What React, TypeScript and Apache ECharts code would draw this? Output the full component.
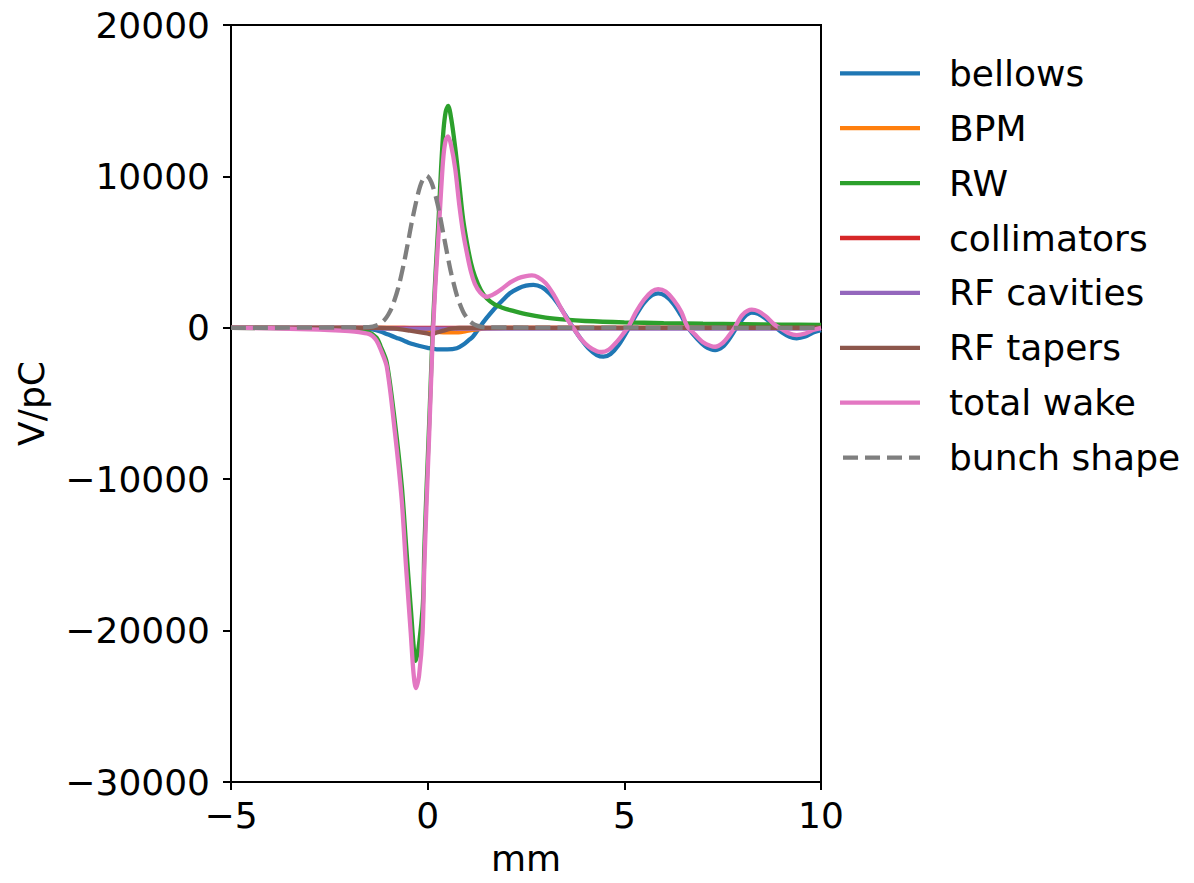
import React, { useEffect, useRef } from "react";
import * as echarts from "echarts";

const seriesNames = ["bellows", "BPM", "RW", "collimators", "RF cavities", "RF tapers", "total wake", "bunch shape"];
const seriesColors = ["#1f77b4", "#ff7f0e", "#2ca02c", "#d62728", "#9467bd", "#8c564b", "#e377c2", "#7f7f7f"];

const xTicks = { min: -5, max: 10, interval: 5 };
const yTicks = { min: -30000, max: 20000, interval: 10000 };

const bellowsX = [-5, -2, -1.6, -1.4, -1.2, -1.0, -0.8, -0.6, -0.45, -0.2, 0, 0.23, 0.5, 0.74, 0.9, 1.05, 1.15, 1.33, 1.5, 1.67, 1.9, 2.09, 2.3, 2.5, 2.69, 2.9, 3.1, 3.28, 3.5, 3.7, 3.9, 4.1, 4.3, 4.47, 4.65, 4.85, 5.12, 5.3, 5.5, 5.7, 5.86, 6.05, 6.25, 6.45, 6.62, 6.85, 7.05, 7.2, 7.31, 7.5, 7.65, 7.85, 8.05, 8.24, 8.4, 8.6, 8.8, 9.0, 9.2, 9.38, 9.6, 9.8, 10];
const bellowsY = [0, 0, -30, -100, -250, -450, -650, -850, -1020, -1200, -1320, -1420, -1430, -1350, -1120, -800, -590, 70, 650, 1180, 1800, 2280, 2600, 2780, 2830, 2680, 2260, 1700, 830, 0, -760, -1390, -1800, -1910, -1730, -1160, 0, 850, 1650, 2150, 2280, 2100, 1580, 780, 0, -730, -1220, -1420, -1470, -1250, -800, 0, 720, 1000, 920, 600, 130, -300, -590, -690, -580, -310, -150];

const bpmX = [-5, -0.6, -0.3, 0, 0.2, 0.4, 0.7, 0.95, 1.2, 1.5, 2, 10];
const bpmY = [0, 0, -40, -150, -250, -300, -300, -230, -120, -40, 0, 0];

const rwX = [-5, -3, -2, -1.5, -1.3, -1.2, -1.04, -0.83, -0.66, -0.55, -0.43, -0.3, -0.13, -0.085, -0.025, 0.04, 0.1, 0.13, 0.2, 0.28, 0.34, 0.4, 0.46, 0.52, 0.6, 0.7, 0.8, 0.9, 1.0, 1.1, 1.2, 1.35, 1.5, 1.7, 1.9, 2.1, 2.5, 3.0, 3.5, 4.0, 5.0, 6.0, 7.0, 8.0, 9.0, 10];
const rwY = [0, -50, -150, -300, -650, -1200, -2300, -6300, -10400, -14300, -18500, -22000, -18600, -14600, -10400, -6200, -2000, 0, 3600, 7300, 10500, 13000, 14300, 14650, 13800, 11900, 9600, 7200, 5600, 4300, 3400, 2500, 1950, 1550, 1330, 1170, 900, 680, 540, 450, 360, 310, 270, 240, 210, 190];

const collimatorsX = [-5, 10];
const collimatorsY = [0, 0];

const rfCavitiesX = [-5, -1.5, -1.2, 10];
const rfCavitiesY = [0, 0, -50, -50];

const rfTapersX = [-5, -1.2, -0.87, -0.45, -0.02, 0.07, 0.2, 0.4, 0.6, 0.8, 10];
const rfTapersY = [0, 0, -40, -190, -370, -430, -340, -190, -60, 0, 0];

const totalX = [-5, -4, -3, -2.5, -2, -1.75, -1.5, -1.4, -1.3, -1.2, -1.04, -0.83, -0.66, -0.55, -0.43, -0.36, -0.3, -0.22, -0.13, -0.085, -0.025, 0.04, 0.1, 0.14, 0.2, 0.28, 0.34, 0.4, 0.46, 0.52, 0.6, 0.7, 0.8, 0.9, 1.0, 1.1, 1.2, 1.33, 1.5, 1.7, 1.9, 2.1, 2.3, 2.5, 2.65, 2.8, 3.0, 3.2, 3.4, 3.55, 3.7, 3.9, 4.1, 4.3, 4.42, 4.6, 4.8, 5.0, 5.1, 5.3, 5.5, 5.7, 5.86, 6.05, 6.25, 6.45, 6.6, 6.8, 7.0, 7.2, 7.31, 7.5, 7.65, 7.8, 8.0, 8.24, 8.4, 8.6, 8.8, 8.95, 9.2, 9.38, 9.6, 9.8, 10];
const totalY = [0, -30, -100, -150, -220, -280, -400, -550, -850, -1400, -2570, -6970, -11370, -15780, -20170, -22800, -23800, -23000, -20170, -15780, -11370, -6970, -2570, 0, 3000, 6300, 9000, 11300, 12400, 12650, 12000, 10500, 8200, 6300, 4900, 3700, 2900, 2350, 2050, 2250, 2600, 3000, 3280, 3420, 3460, 3350, 2950, 2200, 1250, 550, 0, -750, -1250, -1550, -1600, -1450, -950, -300, 50, 1050, 1850, 2400, 2550, 2400, 1850, 1050, 100, -450, -950, -1200, -1250, -1000, -550, 0, 850, 1200, 1100, 750, 250, 0, -380, -480, -380, -150, 0];

const bunchX = [-5, -1.5, -1.25, -1.1, -1.0, -0.9, -0.75, -0.6, -0.5, -0.4, -0.25, -0.15, -0.03, 0.1, 0.25, 0.4, 0.5, 0.6, 0.75, 0.9, 1.0, 1.1, 1.25, 1.5, 10];
const bunchY = [0, 40, 210, 520, 880, 1410, 2620, 4320, 5650, 7020, 8800, 9640, 10050, 9570, 8200, 6200, 4840, 3580, 2080, 1070, 650, 370, 145, 25, 0];

const seriesXs = [bellowsX, bpmX, rwX, collimatorsX, rfCavitiesX, rfTapersX, totalX, bunchX];
const seriesYs = [bellowsY, bpmY, rwY, collimatorsY, rfCavitiesY, rfTapersY, totalY, bunchY];

const FONT = "DejaVu Sans";
const LINE_W = 4.3;
const DASH = [15, 7];
const minusFmt = (v: number) => String(v).replace("-", "\u2212");

export default function App() {
  const ref = useRef<HTMLDivElement>(null);
  useEffect(() => {
    const chart = echarts.init(ref.current!, null, { renderer: "svg" });
    const series = seriesNames.map((name, i) => ({
      name,
      type: "line",
      data: seriesXs[i].map((x, j) => [x, seriesYs[i][j]]),
      showSymbol: false,
      symbol: "none",
      smooth: 0.3,
      color: seriesColors[i],
      lineStyle: {
        color: seriesColors[i],
        width: LINE_W,
        type: name === "bunch shape" ? DASH : "solid",
      },
      emphasis: { disabled: true },
    }));
    const legendTop = 73.3;
    const legendStep = 54.9;
    const legendGraphics: any[] = [];
    seriesNames.forEach((name, i) => {
      const y = legendTop + legendStep * i;
      legendGraphics.push({
        type: "line",
        shape: { x1: name === "bunch shape" ? 843 : 840, y1: y, x2: 920, y2: y },
        style: {
          stroke: seriesColors[i],
          lineWidth: LINE_W,
          lineDash: name === "bunch shape" ? DASH : null,
        },
        silent: true,
      });
      legendGraphics.push({
        type: "text",
        x: 949,
        y,
        style: {
          text: name,
          fontSize: 36,
          fontFamily: FONT,
          fill: "#000",
          verticalAlign: "middle",
          align: "left",
        },
        silent: true,
      });
    });
    chart.setOption({
      animation: false,
      backgroundColor: "#fff",
      textStyle: { fontFamily: FONT },
      grid: { left: 231, top: 25, width: 590, height: 757, show: true, borderColor: "#000", borderWidth: 2, containLabel: false },
      graphic: legendGraphics,
      xAxis: {
        type: "value",
        min: xTicks.min,
        max: xTicks.max,
        interval: xTicks.interval,
        name: "mm",
        nameLocation: "middle",
        nameGap: 58,
        nameTextStyle: { fontSize: 36, color: "#000", fontFamily: FONT },
        axisLine: { show: true, onZero: false, lineStyle: { color: "#000", width: 2 } },
        axisTick: { show: true, inside: false, length: 8, lineStyle: { color: "#000", width: 2 } },
        axisLabel: { fontSize: 36, color: "#000", fontFamily: FONT, margin: 15, formatter: minusFmt },
        splitLine: { show: false },
      },
      yAxis: {
        type: "value",
        min: yTicks.min,
        max: yTicks.max,
        interval: yTicks.interval,
        name: "V/pC",
        nameLocation: "middle",
        nameGap: 182,
        nameTextStyle: { fontSize: 36, color: "#000", fontFamily: FONT },
        axisLine: { show: true, onZero: false, lineStyle: { color: "#000", width: 2 } },
        axisTick: { show: true, inside: false, length: 8, lineStyle: { color: "#000", width: 2 } },
        axisLabel: { fontSize: 36, color: "#000", fontFamily: FONT, margin: 21, formatter: minusFmt },
        splitLine: { show: false },
      },
      series,
    });
    return () => chart.dispose();
  }, []);
  return <div ref={ref} style={{ position: "absolute", left: 0, top: 0, width: 1194, height: 883 }} />;
}
